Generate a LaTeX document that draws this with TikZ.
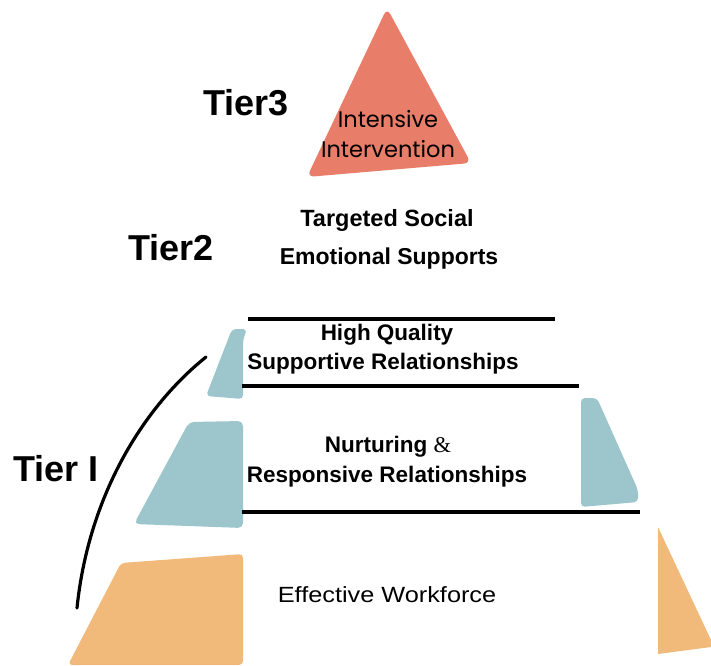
\documentclass[tikz,border=0pt]{standalone}
\usepackage{fontspec}
\setmainfont{Liberation Sans}
\newfontfamily\roundfont{Poppins}
\newfontfamily\ampfont{Liberation Serif}
\usetikzlibrary{calc}
\definecolor{tierred}{HTML}{E87E69}
\definecolor{tierteal}{HTML}{9CC6CB}
\definecolor{tierorange}{HTML}{F1BA7B}
\tikzset{
	tierlabel/.style={font=\bfseries\fontsize{36}{38}\selectfont},
	layertext/.style={font=\bfseries\fontsize{22.5}{24}\selectfont},
}

\begin{document}
\begin{tikzpicture}[x=1pt, y=-1pt]
		%%%%% START %%%%%
		\useasboundingbox (0, 0) rectangle (711, 665);
		
		% top triangle
		\fill[tierred, rounded corners=7pt] (387, 8) -- (471, 163) -- (307, 177) -- cycle;
		\node[font=\roundfont\fontsize{22.5}{24}\selectfont] (intensive) at (388, 119) {Intensive};
		\node[font=\roundfont\fontsize{22.5}{24}\selectfont] (intervention) at (388, 149) {Intervention};
		
		% tier labels
		\node[tierlabel] (tier3) at (246, 103) {Tier3};
		\node[tierlabel] (tier2) at (171, 248) {Tier2};
		\node[tierlabel] (tier1) at (56, 469) {Tier I};
		
		% tier 2 text
		\node[layertext, font=\bfseries\fontsize{23.5}{25}\selectfont] (targeted) at (387, 220) {Targeted Social};
		\node[layertext, font=\bfseries\fontsize{23}{25}\selectfont] (emotional) at (389, 259) {Emotional Supports};
		
		% teal layers
		\fill[tierteal, rounded corners=4pt] (247, 329) -- (232, 329) -- (206, 396) -- (243, 399) -- (243, 340) -- cycle;
		\fill[tierteal, rounded corners=5pt] (243, 421) -- (189, 422) -- (134, 524) -- (243, 528) -- cycle;
		\fill[tierteal, rounded corners=4pt] (581, 398) -- (597, 398) -- (638, 490) -- (638, 502) -- (581, 507) -- cycle;
		
		% orange base
		\fill[tierorange, rounded corners=4pt] (243, 554) -- (121, 563) -- (68, 665) -- (243, 665) -- cycle;
		\fill[tierorange] (658, 527) -- (711, 640) -- (711, 647) -- (658, 654) -- cycle;
		
		% separating bars
		\draw[line width=4pt] (248, 319) -- (555, 319);
		\draw[line width=4pt] (242, 386) -- (579, 386);
		\draw[line width=4pt] (242, 512) -- (640, 512);
		
		% tier I bracket
		\draw[line width=3.2pt, line cap=round] (206, 357) .. controls (140, 410) and (88, 500) .. (77, 608);
		
		% layer texts
		\node[layertext] (highquality) at (387, 335) {High Quality};
		\node[layertext] (supportive) at (383, 364) {Supportive Relationships};
		\node[layertext] (nurturing) at (388, 447) {Nurturing {\ampfont\mdseries\&}};
		\node[layertext] (responsive) at (387, 477) {Responsive Relationships};
		\node[font=\fontsize{22}{24}\selectfont, xscale=1.15] (workforce) at (387, 595) {Effective Workforce};
		
		%%%%% END %%%%%
	\end{tikzpicture}
\end{document}
